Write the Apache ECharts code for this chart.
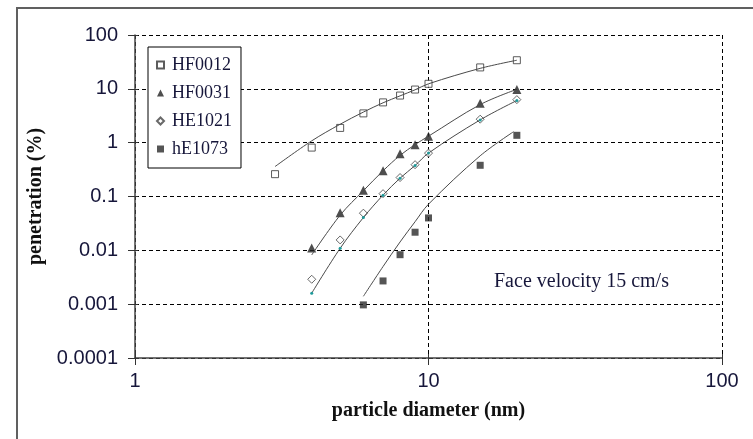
<!DOCTYPE html>
<html>
<head>
<meta charset="utf-8">
<script src="https://cdn.jsdelivr.net/npm/echarts@6/dist/echarts.min.js"></script>
<style>
  html, body { margin: 0; padding: 0; background: #fff; }
  #chart { width: 753px; height: 439px; }
</style>
</head>
<body>
<div id="chart"></div>
<script>
// Measured penetration (%) vs particle diameter (nm), one pair of arrays per filter
const seriesNames = ['HF0012', 'HF0031', 'HE1021', 'hE1073'];

const dHF0012 = [3, 4, 5, 6, 7, 8, 9, 10, 15, 20];
const pHF0012 = [0.26, 0.81, 1.88, 3.5, 5.6, 7.5, 9.7, 12.4, 25, 34];

const dHF0031 = [4, 5, 6, 7, 8, 9, 10, 15, 20];
const pHF0031 = [0.011, 0.050, 0.13, 0.30, 0.62, 0.91, 1.32, 5.4, 9.7];

const dHE1021 = [4, 5, 6, 7, 8, 9, 10, 15, 20];
const pHE1021 = [0.0029, 0.0156, 0.049, 0.113, 0.225, 0.39, 0.64, 2.73, 6.3];

const dhE1073 = [6, 7, 8, 9, 10, 15, 20];
const phE1073 = [0.00097, 0.0027, 0.0083, 0.0217, 0.040, 0.38, 1.37];

// Fitted trend curves
const fitDHF0012 = [3, 4, 5, 6, 7, 8, 9, 10, 15, 20];
const fitPHF0012 = [0.36, 1.08, 2.2, 3.7, 5.5, 7.4, 9.6, 12.4, 24, 34];

const fitDHF0031 = [4, 5, 6, 7, 8, 9, 10, 15, 20];
const fitPHF0031 = [0.0082, 0.045, 0.128, 0.30, 0.58, 0.92, 1.32, 5.1, 9.8];

const fitDHE1021 = [4, 5, 6, 7, 8, 9, 10, 15, 20];
const fitPHE1021 = [0.0016, 0.0109, 0.0406, 0.106, 0.219, 0.376, 0.64, 2.65, 6.07];

const fitDhE1073 = [6, 7, 8, 9, 10, 15, 19.5];
const fitPhE1073 = [0.0014, 0.005, 0.0143, 0.034, 0.072, 0.57, 1.6];

const xTickLabels = ['1', '10', '100'];
const yTickLabels = ['0.0001', '0.001', '0.01', '0.1', '1', '10', '100'];

const xTitle = 'particle diameter (nm)';
const yTitle = 'penetration (%)';
const note = 'Face velocity 15 cm/s';

const pairs = (xs, ys) => xs.map((x, i) => [x, ys[i]]);

const labelColor = '#16163a';
const serif = '"Liberation Serif", "Times New Roman", serif';
const sans = '"Liberation Sans", Arial, sans-serif';

const chart = echarts.init(document.getElementById('chart'), null, { renderer: 'canvas' });

const dash = { type: [4, 3], color: '#000', width: 1 };

const fitLine = (name, xs, ys, extra) => Object.assign({
  name: name + ' fit',
  type: 'line',
  data: pairs(xs, ys),
  smooth: 0.35,
  showSymbol: false,
  symbol: 'none',
  lineStyle: { color: '#4a4a4a', width: 1 },
  silent: true,
  z: 4
}, extra || {});

const option = {
  animation: false,
  backgroundColor: '#fff',
  grid: { left: 135, right: 31, top: 35, bottom: 81, containLabel: false },
  legend: {
    data: seriesNames,
    orient: 'vertical',
    left: 148,
    top: 47,
    backgroundColor: '#fff',
    borderColor: '#000',
    borderWidth: 1,
    padding: [9, 9, 10, 8],
    itemGap: 10,
    itemWidth: 7,
    itemHeight: 7,
    textStyle: {
      fontFamily: serif, fontSize: 18, color: labelColor, lineHeight: 18,
      padding: [0, 0, 0, 3]
    }
  },
  xAxis: [
    {
      type: 'log', logBase: 10, min: 1, max: 100,
      name: xTitle, nameLocation: 'middle', nameGap: 43,
      nameTextStyle: { fontFamily: serif, fontSize: 20, fontWeight: 'bold', color: '#111' },
      axisLine: { show: true, lineStyle: { color: '#444', width: 1.5 } },
      axisTick: { show: true, length: 7, lineStyle: { color: '#333' } },
      minorTick: { show: false },
      axisLabel: {
        margin: 13, fontFamily: sans, fontSize: 20, color: labelColor,
        formatter: v => xTickLabels[Math.round(Math.log10(v))]
      },
      splitLine: { show: true, lineStyle: dash }
    },
    {
      type: 'log', logBase: 10, min: 1, max: 100, position: 'bottom',
      axisLine: { show: false }, axisLabel: { show: false }, splitLine: { show: false },
      axisTick: { show: true, inside: true, length: 4, lineStyle: { color: '#333' } }
    }
  ],
  yAxis: [
    {
      type: 'log', logBase: 10, min: 0.0001, max: 100,
      name: yTitle, nameLocation: 'middle', nameGap: 80, nameRotate: 90,
      nameTextStyle: { fontFamily: serif, fontSize: 20, fontWeight: 'bold', color: '#111' },
      axisLine: { show: true, lineStyle: { color: '#444', width: 1.5 } },
      axisTick: { show: true, length: 7, lineStyle: { color: '#333' } },
      axisLabel: {
        margin: 17, fontFamily: sans, fontSize: 20, color: labelColor,
        formatter: v => yTickLabels[Math.round(Math.log10(v)) + 4]
      },
      splitLine: { show: true, lineStyle: dash }
    },
    {
      type: 'log', logBase: 10, min: 0.0001, max: 100, position: 'left',
      axisLine: { show: false }, axisLabel: { show: false }, splitLine: { show: false },
      axisTick: { show: true, inside: true, length: 3, lineStyle: { color: '#333' } }
    }
  ],
  series: [
    {
      name: 'HF0012', type: 'scatter', data: pairs(dHF0012, pHF0012),
      symbol: 'rect', symbolSize: 7,
      itemStyle: { color: '#fff', borderColor: '#333', borderWidth: 1 }, z: 3
    },
    {
      name: 'HF0031', type: 'scatter', data: pairs(dHF0031, pHF0031),
      symbol: 'triangle', symbolSize: 9,
      itemStyle: { color: '#222' }, z: 3
    },
    {
      name: 'HE1021', type: 'scatter', data: pairs(dHE1021, pHE1021),
      symbol: 'diamond', symbolSize: 8,
      itemStyle: { color: '#fff', borderColor: '#444', borderWidth: 1 }, z: 3
    },
    {
      name: 'hE1073', type: 'scatter', data: pairs(dhE1073, phE1073),
      symbol: 'rect', symbolSize: 7,
      itemStyle: { color: '#2a2a2a' }, z: 3
    },
    fitLine('HF0012', fitDHF0012, fitPHF0012),
    fitLine('HF0031', fitDHF0031, fitPHF0031),
    fitLine('HE1021', fitDHE1021, fitPHE1021, {
      showSymbol: true, symbol: 'circle', symbolSize: 3,
      itemStyle: { color: '#1e9a9a', borderWidth: 0 }
    }),
    fitLine('hE1073', fitDhE1073, fitPhE1073)
  ],
  graphic: [
    {
      type: 'rect', silent: true, z: 0,
      shape: { x: 17, y: 8, width: 760, height: 450 },
      style: { fill: 'none', stroke: '#606060', lineWidth: 2 }
    },
    {
      type: 'text', silent: true, z: 10,
      left: 494, top: 272,
      style: { text: note, font: '20px ' + serif, fill: labelColor }
    }
  ]
};

chart.setOption(option);
</script>
</body>
</html>
